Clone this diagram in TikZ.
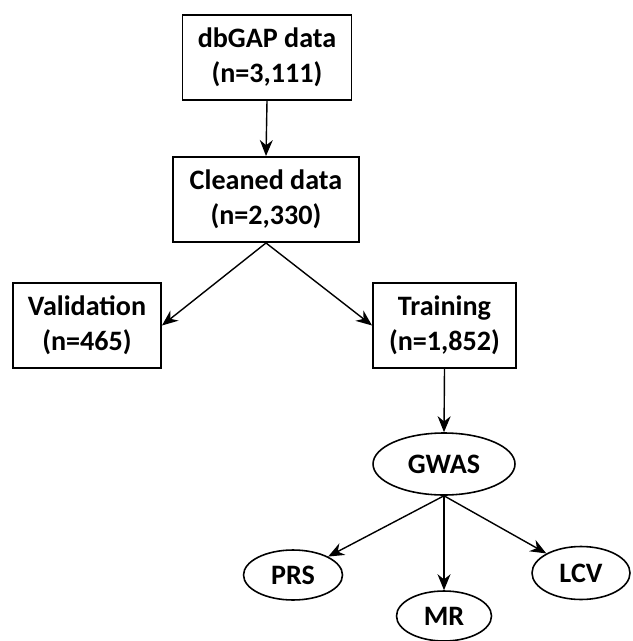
\documentclass[tikz,border=0pt]{standalone}
\usepackage{fontspec}
\setmainfont{Carlito}
\usepackage{tikz}
\usetikzlibrary{positioning,arrows.meta,shapes.geometric}
\tikzset{
  stage/.style = {rectangle, draw=black, line width=1.1pt, fill=white, align=center,
    inner sep=0pt, minimum height=1.70cm, font=\fontsize{16}{20}\selectfont\bfseries},
  analysis/.style = {ellipse, draw=black, line width=0.9pt, fill=white, align=center,
    inner sep=0pt, font=\fontsize{16}{20}\selectfont\bfseries},
  flow/.style = {-{Stealth[length=3.2mm,width=2.6mm]}, line width=0.8pt, draw=black}
}

\begin{document}
\begin{tikzpicture}[x=0.02cm, y=-0.02cm]
        \useasboundingbox (0,0) rectangle (632,641);
        % Data -----------------------------------------------------------------------------------
        \node[stage, minimum width=3.38cm] (dbgap) at (267,57.5) {dbGAP data\\(n=3,111)};
        \node[stage, minimum width=3.72cm] (cleaned) at (266,199.5) {Cleaned data\\(n=2,330)};
        % Split ----------------------------------------------------------------------------------
        \node[stage, minimum width=2.96cm] (validation) at (87,325.5) {Validation\\(n=465)};
        \node[stage, minimum width=2.86cm] (training) at (444.5,325.5) {Training\\(n=1,852)};
        % Analyses -------------------------------------------------------------------------------
        \node[analysis, minimum width=2.84cm, minimum height=1.24cm] (gwas) at (444,464) {GWAS};
        \node[analysis, minimum width=1.98cm, minimum height=1.00cm] (prs) at (293,575) {PRS};
        \node[analysis, minimum width=1.90cm, minimum height=1.00cm] (mr) at (444,616) {MR};
        \node[analysis, minimum width=1.96cm, minimum height=1.06cm] (lcv) at (581,573) {LCV};
        % Arrows ---------------------------------------------------------------------------------
        \draw[flow] (dbgap.south) -- (cleaned.north);
        \draw[flow] (cleaned.south) -- (validation.east);
        \draw[flow] (cleaned.south) -- (training.west);
        \draw[flow] (training.south) -- (gwas.north);
        \draw[flow] (gwas.south) -- (prs);
        \draw[flow] (gwas.south) -- (mr.north);
        \draw[flow] (gwas.south) -- (lcv);
    \end{tikzpicture}
\end{document}
